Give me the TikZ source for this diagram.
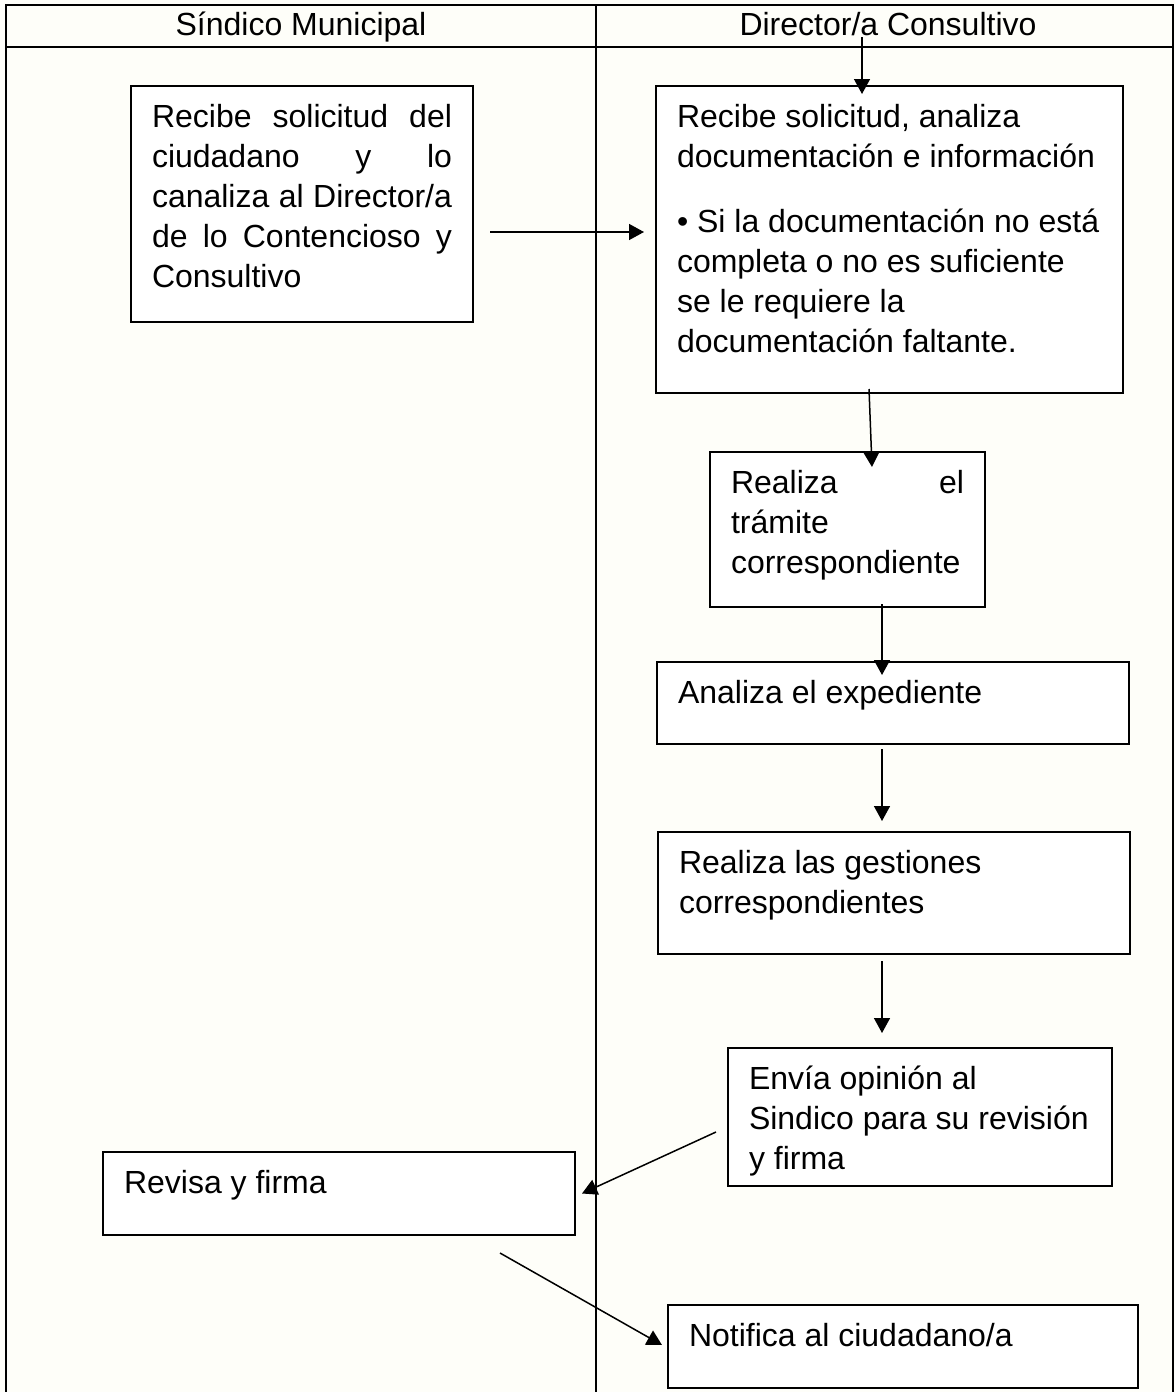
\documentclass[tikz,border=0pt]{standalone}
\usepackage{fontspec}
\setmainfont{Liberation Sans}
\usetikzlibrary{arrows.meta}

\definecolor{paper}{RGB}{254,254,249}
\newcommand{\steptext}[3]{\parbox[t][#2][t]{#1}{\noindent\rule{0pt}{11.5pt}\ignorespaces#3}}
\hbadness=10000 \vbadness=10000 \vfuzz=6pt

\begin{document}
\begin{tikzpicture}[x=0.5pt, y=-0.5pt, line width=0.9pt,
  stepbox/.style={draw, fill=white, anchor=north west, outer sep=0pt,
    inner xsep=10.5pt, inner ysep=9pt, font=\fontsize{16}{20}\selectfont},
  lanehead/.style={anchor=base, font=\fontsize{16}{20}\selectfont},
  flow/.style={-{Triangle[length=7.5pt,width=8pt]}, line width=0.75pt}]

\useasboundingbox (0,0) rectangle (1175,1392);
\fill [paper] (0,0) rectangle (1175,1392);

% swim lanes
\draw [line width=1.3pt] (6,1400) -- (6,5) -- (1173,5) -- (1173,1400);
\draw (6,47) -- (1173,47);
\draw (596,5) -- (596,1400);

\node [lanehead] (sindico) at (301,35) {Síndico Municipal};
\node [lanehead] (director) at (888,35) {Director/a Consultivo};

% steps
\node [stepbox] (recibe) at (131,86) {\steptext{150pt}{100pt}{Recibe solicitud del\linebreak ciudadano y lo\linebreak canaliza al Director/a\linebreak de lo Contencioso y\linebreak Consultivo}};

\node [stepbox] (analiza) at (656,86) {\steptext{212.5pt}{135.5pt}{\raggedright Recibe solicitud, analiza\\ documentación e información\\[12.5pt] • Si la documentación no está\\ completa o no es suficiente\\ se le requiere la\\ documentación faltante.}};

\node [stepbox] (tramite) at (710,452) {\steptext{116.5pt}{59.5pt}{Realiza el\linebreak trámite\\ correspondiente}};

\node [stepbox] (expediente) at (657,662) {\steptext{215pt}{23pt}{\raggedright Analiza el expediente}};

\node [stepbox] (gestiones) at (658,832) {\steptext{215pt}{43pt}{\raggedright Realiza las gestiones\\ correspondientes}};

\node [stepbox] (opinion) at (728,1048) {\steptext{171pt}{51pt}{\raggedright Envía opinión al\\ Sindico para su revisión\\ y firma}};

\node [stepbox] (firma) at (103,1152) {\steptext{215pt}{23.5pt}{\raggedright Revisa y firma}};

\node [stepbox] (notifica) at (668,1305) {\steptext{214pt}{23.5pt}{\raggedright Notifica al ciudadano/a}};

% arrows
\coordinate (enter) at (862,37);
\draw [flow, shorten >=-4pt] (enter) -- (enter |- analiza.north);
\draw [flow] ([xshift=8.5pt,yshift=-14pt]recibe.east) -- ([xshift=-6pt,yshift=3.75pt]analiza.west);
\draw [flow] ([xshift=-10.25pt,yshift=2pt]analiza.south) -- ([xshift=12.25pt,yshift=-7.5pt]tramite.north);
\draw [flow] ([xshift=17.25pt,yshift=1.5pt]tramite.south) -- ([xshift=-5.5pt,yshift=-6.5pt]expediente.north);
\draw [flow] ([xshift=-5.5pt,yshift=-2.5pt]expediente.south) -- ([xshift=-6pt,yshift=5.5pt]gestiones.north);
\draw [flow] ([xshift=-6pt,yshift=-3.5pt]gestiones.south) -- ([xshift=-19pt,yshift=7.5pt]opinion.north);
\draw [flow] ([xshift=-6pt,yshift=-7.5pt]opinion.west) -- ([xshift=3.5pt]firma.east);
\draw [flow] ([xshift=80.5pt,yshift=-9pt]firma.south) -- ([xshift=-3pt,yshift=0.75pt]notifica.west);

\end{tikzpicture}
\end{document}
